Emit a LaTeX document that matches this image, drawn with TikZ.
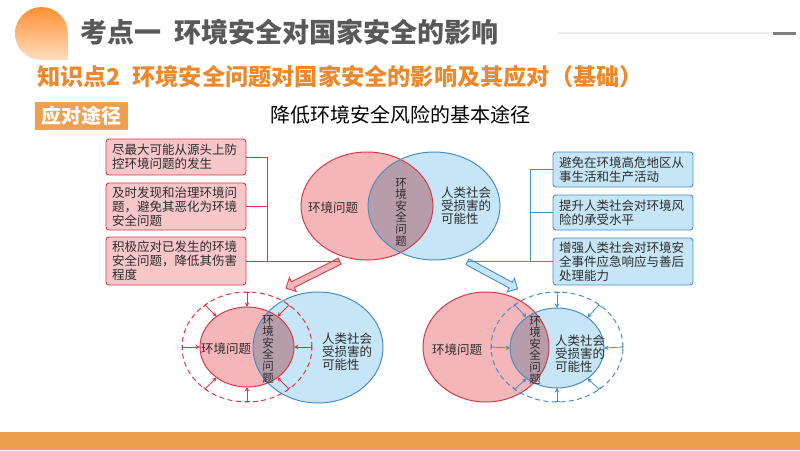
\documentclass[tikz,border=0pt]{standalone}
\usepackage{fontspec}
\setmainfont{Noto Sans CJK SC}
\usetikzlibrary{shapes.geometric, shapes.arrows, arrows.meta, positioning}
\definecolor{hdorange}{RGB}{237,137,45}
\definecolor{tagorange}{RGB}{239,160,78}
\definecolor{hdgray}{RGB}{89,89,89}
\definecolor{envred}{RGB}{214,58,74}
\definecolor{envpink}{RGB}{244,182,184}
\definecolor{boxpink}{RGB}{246,198,200}
\definecolor{socblue}{RGB}{72,142,198}
\definecolor{socfill}{RGB}{198,229,246}
\definecolor{mixfill}{RGB}{183,157,169}
\definecolor{txtgray}{RGB}{45,45,45}

\begin{document}
\begin{tikzpicture}[x=1pt, y=-1pt,
    redbox/.style={draw=envred, fill=boxpink, rounded corners=3pt, line width=0.9pt, text width=128pt, minimum width=140pt, inner sep=0pt, align=left, text=txtgray, font=\fontsize{12.5}{14}\selectfont},
    bluebox/.style={redbox, draw=socblue, fill=socfill},
    redline/.style={draw=envred, line width=0.9pt},
    blueline/.style={draw=socblue, line width=0.9pt},
    bigarr/.style={single arrow, single arrow head extend=4.5pt, single arrow head indent=0pt, inner sep=2.8pt, line width=0.9pt, anchor=tail},
    lbl/.style={inner sep=0pt, text=txtgray, align=left, font=\fontsize{12.5}{13}\selectfont},
    vlbl/.style={lbl, align=center, font=\fontsize{11.5}{11.6}\selectfont},
    ring/.style={ellipse, inner sep=0pt, outer sep=0pt},
    guard/.style={ring, line width=1pt, dash pattern=on 5pt off 3.5pt},
    tickarr/.style={{Bar[width=5pt]}-{Stealth[length=4.5pt, width=4.5pt]}, line width=0.8pt}
]
    \useasboundingbox (0,0) rectangle (800,450);

    % header
    \shade[top color=orange!90!red!80, bottom color=orange!25!white]
        (68,60) -- (68,33.5) arc[start angle=0, end angle=270, radius=26.5pt] -- cycle;
    \node[anchor=west, inner sep=0pt, text=hdgray, font=\fontsize{27}{29}\selectfont\bfseries] (title) at (80,32)
        {考点一\hspace{0.5em}环境安全对国家安全的影响};
    \draw[black!8, line width=2.5pt] (558,33) -- (772,33);
    \draw[black!50, line width=3pt] (773,33) -- (796,33);
    \node[anchor=west, inner sep=0pt, text=hdorange, font=\fontsize{23.2}{25}\selectfont\bfseries] (point) at (37,77)
        {知识点2\hspace{0.5em}环境安全问题对国家安全的影响及其应对（基础）};
    \node[fill=tagorange, text=white, minimum width=93pt, minimum height=28pt, inner sep=0pt,
        font=\fontsize{20}{22}\selectfont\bfseries] (tag) at (81.5,116) {应对途径};
    \node[inner sep=0pt, font=\fontsize{20}{22}\selectfont] (topic) at (400,115) {降低环境安全风险的基本途径};

    % left measures
    \node[redbox, minimum height=36pt] (risk1) at (176,157) {尽最大可能从源头上防\\控环境问题的发生};
    \node[redbox, minimum height=47pt] (risk2) at (176,206.5) {及时发现和治理环境问\\题，避免其恶化为环境\\安全问题};
    \node[redbox, minimum height=48pt] (risk3) at (176,261) {积极应对已发生的环境\\安全问题，降低其伤害\\程度};
    \draw[redline] (risk1.east) -- ++(21,0) |- (risk3.east);
    \draw[redline] (risk2.east) -- ++(21,0);
    \node[bigarr, draw=envred, fill=envpink, rotate=206.6, minimum height=60pt] (down1) at (340,261) {};
    \draw[redline] (risk3.east) -- (down1.tail);

    % right measures
    \node[bluebox, minimum height=35pt] (cope1) at (623,169.5) {避免在环境高危地区从\\事生活和生产活动};
    \node[bluebox, minimum height=35pt] (cope2) at (623,212.5) {提升人类社会对环境风\\险的承受水平};
    \node[bluebox, minimum height=47pt] (cope3) at (623,261.5) {增强人类社会对环境安\\全事件应急响应与善后\\处理能力};
    \draw[blueline] (cope1.west) -- ++(-22,0) |- (cope3.west);
    \draw[blueline] (cope2.west) -- ++(-22,0);
    \node[bigarr, draw=socblue, fill=socfill, rotate=-28.4, minimum height=57pt] (down2) at (467,261.5) {};
    \draw[blueline] (cope3.west) -- (down2.tail);

    % top venn
    \fill[envpink] (367,206) ellipse [x radius=66pt, y radius=54pt];
    \fill[socfill] (434,206) ellipse [x radius=66pt, y radius=54pt];
    \begin{scope}
        \clip (367,206) ellipse [x radius=66pt, y radius=54pt];
        \fill[mixfill] (434,206) ellipse [x radius=66pt, y radius=54pt];
    \end{scope}
    \node[ring, draw=envred, line width=1pt, minimum width=132pt, minimum height=108pt] (envA) at (367,206) {};
    \node[ring, draw=socblue, line width=1pt, minimum width=132pt, minimum height=108pt] (socA) at (434,206) {};
    \node[lbl] (envtxtA) at (333,208) {环境问题};
    \node[lbl, anchor=west] (soctxtA) at (441,206) {人类社会\\受损害的\\可能性};
    \node[vlbl] (mixtxtA) at (401,212) {环\\境\\安\\全\\问\\题};

    % bottom left venn
    \fill[envpink] (247,347) ellipse [x radius=47pt, y radius=40pt];
    \fill[socfill] (318,347.5) ellipse [x radius=65pt, y radius=55.5pt];
    \begin{scope}
        \clip (247,347) ellipse [x radius=47pt, y radius=40pt];
        \fill[mixfill] (318,347.5) ellipse [x radius=65pt, y radius=55.5pt];
    \end{scope}
    \node[ring, draw=envred, line width=1pt, minimum width=94pt, minimum height=80pt] (envB) at (247,347) {};
    \node[ring, draw=socblue, line width=1pt, minimum width=130pt, minimum height=111pt] (socB) at (318,347.5) {};
    \node[guard, draw=envred, minimum width=130pt, minimum height=110pt] (ringB) at (247,347) {};
    \foreach \a in {0,45,...,315}
        \draw[tickarr, envred] (ringB.\a) -- (envB.\a);
    \node[lbl] (envtxtB) at (226,349) {环境问题};
    \node[lbl, anchor=west] (soctxtB) at (322,352) {人类社会\\受损害的\\可能性};
    \node[vlbl] (mixtxtB) at (268,349) {环\\境\\安\\全\\问\\题};

    % bottom right venn
    \fill[envpink] (486,347) ellipse [x radius=63pt, y radius=55pt];
    \fill[socfill] (557,348) ellipse [x radius=47pt, y radius=40pt];
    \begin{scope}
        \clip (486,347) ellipse [x radius=63pt, y radius=55pt];
        \fill[mixfill] (557,348) ellipse [x radius=47pt, y radius=40pt];
    \end{scope}
    \node[ring, draw=envred, line width=1pt, minimum width=126pt, minimum height=110pt] (envC) at (486,347) {};
    \node[ring, draw=socblue, line width=1pt, minimum width=94pt, minimum height=80pt] (socC) at (557,348) {};
    \node[guard, draw=socblue, minimum width=132pt, minimum height=110pt] (ringC) at (557,347) {};
    \foreach \a in {0,45,...,315}
        \draw[tickarr, socblue] (ringC.\a) -- (socC.\a);
    \node[lbl] (envtxtC) at (457,350) {环境问题};
    \node[lbl, anchor=west] (soctxtC) at (555,354) {人类社会\\受损害的\\可能性};
    \node[vlbl] (mixtxtC) at (535,350) {环\\境\\安\\全\\问\\题};

    % footer
    \fill[tagorange] (0,432) rectangle (800,450);
\end{tikzpicture}
\end{document}
